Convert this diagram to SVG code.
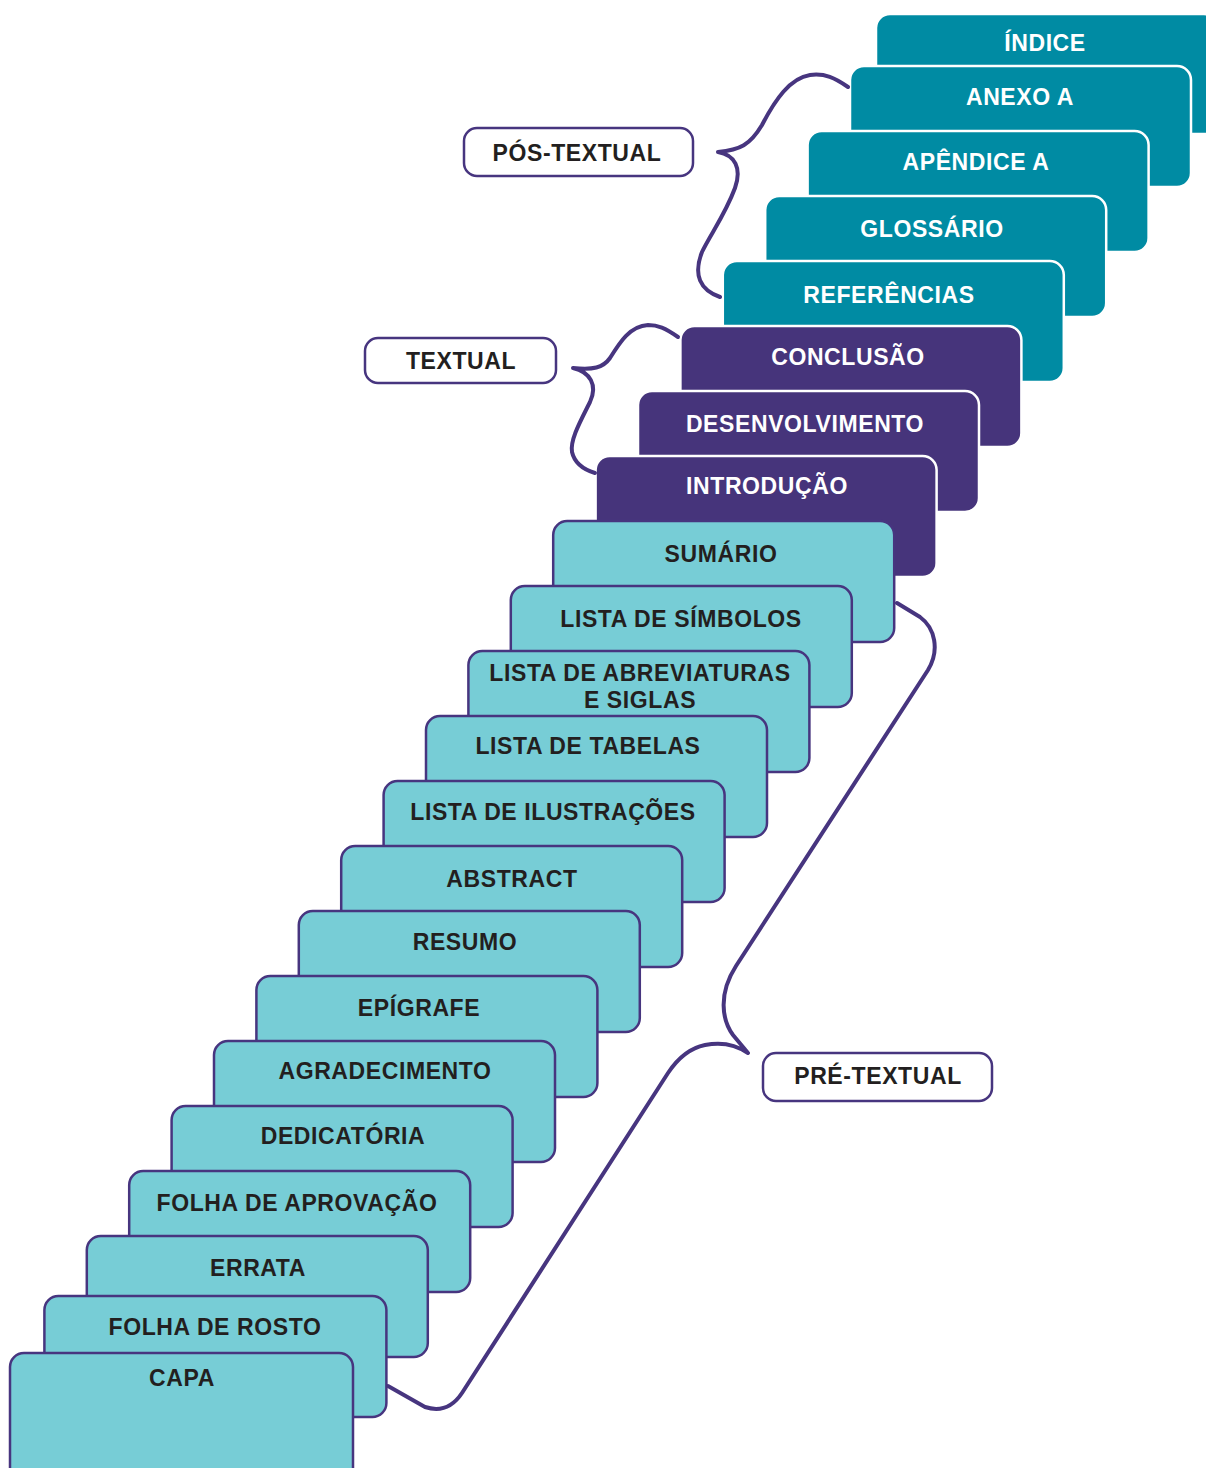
<svg xmlns="http://www.w3.org/2000/svg" width="1206" height="1468" viewBox="0 0 1206 1468">
<style>
.pos{fill:#008ba3;stroke:#ffffff;stroke-width:2.5}
.tex{fill:#46347b;stroke:#ffffff;stroke-width:2.5}
.pre{fill:#77cdd6;stroke:#47357f;stroke-width:2.5}
.lbl{fill:#ffffff;stroke:#47357f;stroke-width:2.5}
text{font-family:"Liberation Sans",Arial,sans-serif;font-weight:bold;font-size:23px;letter-spacing:0.6px;text-anchor:middle}
.w{fill:#ffffff}
.d{fill:#231f20}
.brace{fill:none;stroke:#47357f;stroke-width:4;stroke-linecap:round;stroke-linejoin:round}
</style>
<rect x="0" y="0" width="1206" height="1468" fill="#ffffff"/>
<g id="indice"><rect class="pos" x="876" y="14" width="342" height="120" rx="14"/><text class="w" x="1045" y="51">ÍNDICE</text></g>
<g id="anexo"><rect class="pos" x="850" y="66" width="341" height="121" rx="14"/><text class="w" x="1020" y="105">ANEXO A</text></g>
<g id="apendice"><rect class="pos" x="807.6" y="131" width="341" height="121" rx="14"/><text class="w" x="976" y="170">APÊNDICE A</text></g>
<g id="glossario"><rect class="pos" x="765.2" y="196" width="341" height="121" rx="14"/><text class="w" x="932" y="237">GLOSSÁRIO</text></g>
<g id="referencias"><rect class="pos" x="722.8" y="261" width="341" height="121" rx="14"/><text class="w" x="889" y="303">REFERÊNCIAS</text></g>
<g id="conclusao"><rect class="tex" x="680.4" y="326" width="341" height="121" rx="14"/><text class="w" x="848" y="365">CONCLUSÃO</text></g>
<g id="desenvolvimento"><rect class="tex" x="638" y="391" width="341" height="121" rx="14"/><text class="w" x="805" y="432">DESENVOLVIMENTO</text></g>
<g id="introducao"><rect class="tex" x="595.6" y="456" width="341" height="121" rx="14"/><text class="w" x="767" y="494">INTRODUÇÃO</text></g>
<g id="sumario"><rect class="pre" x="553.2" y="521" width="341" height="121" rx="14"/><text class="d" x="721" y="562">SUMÁRIO</text></g>
<g id="simbolos"><rect class="pre" x="510.8" y="586" width="341" height="121" rx="14"/><text class="d" x="681" y="627">LISTA DE SÍMBOLOS</text></g>
<g id="abreviaturas"><rect class="pre" x="468.4" y="651" width="341" height="121" rx="14"/><text class="d" x="640" y="681">LISTA DE ABREVIATURAS</text><text class="d" x="640" y="708">E SIGLAS</text></g>
<g id="tabelas"><rect class="pre" x="426" y="716" width="341" height="121" rx="14"/><text class="d" x="588" y="754">LISTA DE TABELAS</text></g>
<g id="ilustracoes"><rect class="pre" x="383.6" y="781" width="341" height="121" rx="14"/><text class="d" x="553" y="820">LISTA DE ILUSTRAÇÕES</text></g>
<g id="abstract"><rect class="pre" x="341.2" y="846" width="341" height="121" rx="14"/><text class="d" x="512" y="887">ABSTRACT</text></g>
<g id="resumo"><rect class="pre" x="298.8" y="911" width="341" height="121" rx="14"/><text class="d" x="465" y="950">RESUMO</text></g>
<g id="epigrafe"><rect class="pre" x="256.4" y="976" width="341" height="121" rx="14"/><text class="d" x="419" y="1016">EPÍGRAFE</text></g>
<g id="agradecimento"><rect class="pre" x="214" y="1041" width="341" height="121" rx="14"/><text class="d" x="385" y="1079">AGRADECIMENTO</text></g>
<g id="dedicatoria"><rect class="pre" x="171.6" y="1106" width="341" height="121" rx="14"/><text class="d" x="343" y="1144">DEDICATÓRIA</text></g>
<g id="aprovacao"><rect class="pre" x="129.2" y="1171" width="341" height="121" rx="14"/><text class="d" x="297" y="1211">FOLHA DE APROVAÇÃO</text></g>
<g id="errata"><rect class="pre" x="86.8" y="1236" width="341" height="121" rx="14"/><text class="d" x="258" y="1276">ERRATA</text></g>
<g id="rosto"><rect class="pre" x="44.4" y="1296" width="342" height="121" rx="14"/><text class="d" x="215" y="1335">FOLHA DE ROSTO</text></g>
<g id="capa"><rect class="pre" x="10" y="1353" width="343" height="130" rx="14"/><text class="d" x="182" y="1386">CAPA</text></g>
<g id="lbl-pos"><rect class="lbl" x="464" y="128" width="229" height="48" rx="13"/><text class="d" x="577" y="161">PÓS-TEXTUAL</text></g>
<g id="lbl-tex"><rect class="lbl" x="365" y="338" width="191" height="45" rx="13"/><text class="d" x="461" y="369">TEXTUAL</text></g>
<g id="lbl-pre"><rect class="lbl" x="763" y="1053" width="229" height="48" rx="13"/><text class="d" x="878" y="1084">PRÉ-TEXTUAL</text></g>
<g id="connectors">
<path class="brace" d="M848,87 C835,78 825,73 810,75 C790,78 775,100 762,125 C750,145 740,150 718,152 C735,155 742,168 735,188 C725,215 710,235 702,252 C693,275 700,290 720,297"/>
<path class="brace" d="M678,337 C665,328 658,325 648,325 C630,326 620,342 610,358 C603,368 593,370 573,368 C590,372 598,385 590,402 C580,422 570,440 572,452 C575,465 585,470 595,473"/>
<path class="brace" d="M897,603 L920,617 C935,628 940,650 928,670 L736,966 C718,994 722,1020 733,1035 L748,1053 C735,1044 720,1042 705,1045 C690,1048 678,1058 668,1073 L462,1393 C452,1408 440,1412 425,1407 L388,1386"/>
</g>
</svg>
